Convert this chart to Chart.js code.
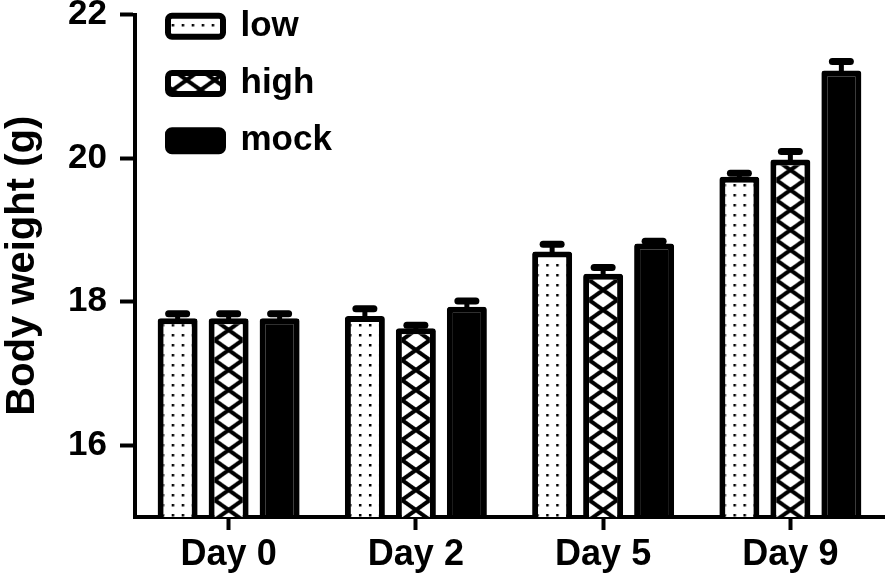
<!DOCTYPE html>
<html>
<head>
<meta charset="utf-8">
<script src="https://cdn.jsdelivr.net/npm/chart.js@4.4.1/dist/chart.umd.min.js"></script>
<style>
  html, body { margin: 0; padding: 0; background: #fff; }
  #wrap { width: 894px; height: 577px; position: relative; }
</style>
</head>
<body>
<div id="wrap"><canvas id="bwChart"></canvas></div>
<script>
// ---- data ----
var categories = ["Day 0", "Day 2", "Day 5", "Day 9"];
var lowMean  = [17.77, 17.80, 18.70, 19.74];
var highMean = [17.77, 17.63, 18.39, 19.98];
var mockMean = [17.77, 17.93, 18.81, 21.22];
var lowErr   = [0.06, 0.10, 0.10, 0.05];
var highErr  = [0.06, 0.04, 0.085, 0.11];
var mockErr  = [0.06, 0.08, 0.03, 0.125];
var yTicks   = [16, 18, 20, 22];

var FONT = "'Liberation Sans', Arial, sans-serif";
var CAT_PCT = 0.817;
var BAR_PCT = 0.784;

// pattern tiles
function dotTile() {
  var c = document.createElement("canvas");
  c.width = 10; c.height = 10;
  var g = c.getContext("2d");
  g.fillStyle = "#fff";
  g.fillRect(0, 0, 10, 10);
  g.fillStyle = "#000";
  g.fillRect(4, 4, 2.5, 2.5);
  return c;
}

var HW = 28, HH = 20;
function hatchTile() {
  var c = document.createElement("canvas");
  c.width = HW; c.height = HH;
  var g = c.getContext("2d");
  g.fillStyle = "#fff";
  g.fillRect(0, 0, HW, HH);
  g.strokeStyle = "#000";
  g.lineWidth = 4;
  for (var dx = -HW; dx <= HW; dx += HW) {
    for (var dy = -HH; dy <= HH; dy += HH) {
      g.beginPath();
      g.moveTo(dx, dy); g.lineTo(dx + HW, dy + HH);
      g.moveTo(dx + HW, dy); g.lineTo(dx, dy + HH);
      g.stroke();
    }
  }
  return c;
}

var tiles = { dots: dotTile(), hatch: hatchTile() };
var patCtx = document.createElement("canvas").getContext("2d");

function makePattern(kind, ox) {
  var p = patCtx.createPattern(tiles[kind], "repeat");
  if (p.setTransform) p.setTransform(new DOMMatrix().translate(ox, 0));
  return p;
}

// bar centre of dataset i at category j, from the x scale
function barCenter(chart, i, j) {
  var x = chart.scales.x;
  var slot = (x.width / categories.length) * CAT_PCT / 3;
  return x.getPixelForValue(j) + (i - 1) * slot;
}

function fillFor(kind, dsIndex) {
  return function (c) {
    if (c.type !== "data" || !c.chart.scales || !c.chart.scales.x) {
      return makePattern(kind, kind === "hatch" ? 181.5 : 0);
    }
    var cx = barCenter(c.chart, dsIndex, c.dataIndex);
    return makePattern(kind, kind === "hatch" ? cx - HW / 2 : cx);
  };
}

var errors = [lowErr, highErr, mockErr];

// error bars drawn from the data through the y scale
var errorBars = {
  id: "errorBars",
  afterDatasetsDraw: function (chart) {
    var ctx = chart.ctx;
    var y = chart.scales.y;
    ctx.save();
    ctx.strokeStyle = "#000";
    chart.data.datasets.forEach(function (ds, i) {
      var meta = chart.getDatasetMeta(i);
      meta.data.forEach(function (bar, j) {
        var top = y.getPixelForValue(ds.data[j]);
        var cap = y.getPixelForValue(ds.data[j] + errors[i][j]);
        ctx.lineCap = "butt";
        ctx.lineWidth = 5;
        ctx.beginPath();
        ctx.moveTo(bar.x, top + 2);
        ctx.lineTo(bar.x, cap);
        ctx.stroke();
        ctx.lineCap = "round";
        ctx.lineWidth = 7;
        ctx.beginPath();
        ctx.moveTo(bar.x - 9, cap);
        ctx.lineTo(bar.x + 9, cap);
        ctx.stroke();
      });
    });
    ctx.restore();
  }
};

// push the legend into the upper-left corner of the plot
var legendSpot = {
  id: "legendSpot",
  afterLayout: function (chart) {
    if (chart.legend) {
      chart.legend.top = -13.6;
      chart.legend.left = 145.7;
    }
  }
};

new Chart(document.getElementById("bwChart"), {
  type: "bar",
  data: {
    labels: categories,
    datasets: [
      { label: "low",  data: lowMean,  backgroundColor: fillFor("dots", 0) },
      { label: "high", data: highMean, backgroundColor: fillFor("hatch", 1) },
      { label: "mock", data: mockMean, backgroundColor: "#000" }
    ]
  },
  options: {
    responsive: true,
    maintainAspectRatio: false,
    animation: false,
    layout: { padding: { top: 14.5, right: 10, bottom: 0, left: 0 } },
    datasets: {
      bar: {
        borderColor: "#000",
        borderWidth: 6,
        borderRadius: 3,
        categoryPercentage: CAT_PCT,
        barPercentage: BAR_PCT
      }
    },
    plugins: {
      tooltip: { enabled: false },
      legend: {
        position: "chartArea",
        align: "start",
        labels: {
          color: "#000",
          font: { family: FONT, size: 35, weight: "bold" },
          boxWidth: 55,
          boxHeight: 21,
          padding: 22.3,
          useBorderRadius: true,
          borderRadius: 4
        }
      }
    },
    scales: {
      x: {
        z: 1,
        offset: true,
        grid: {
          offset: false,
          drawOnChartArea: false,
          drawTicks: true,
          tickLength: 13,
          tickWidth: 4,
          tickColor: "#000"
        },
        border: { display: true, color: "#000", width: 4 },
        ticks: {
          color: "#000",
          padding: 3,
          maxRotation: 0,
          font: { family: FONT, size: 36, weight: "bold", lineHeight: 1.2 }
        },
        afterFit: function (s) {
          s.height = 60;
          s.paddingLeft = 0;
          s.paddingRight = 0;
        }
      },
      y: {
        min: 15,
        max: 22,
        grid: {
          drawOnChartArea: false,
          drawTicks: true,
          tickLength: 15,
          tickWidth: 4,
          tickColor: "#000"
        },
        border: { display: true, color: "#000", width: 4 },
        afterBuildTicks: function (s) {
          s.ticks = yTicks.map(function (v) { return { value: v }; });
        },
        ticks: {
          color: "#000",
          padding: 13,
          font: { family: FONT, size: 35, weight: "bold" }
        },
        title: {
          display: true,
          text: "Body weight (g)",
          color: "#000",
          padding: { top: 3, bottom: 0 },
          font: { family: FONT, size: 40, weight: "bold", lineHeight: 1 }
        },
        afterFit: function (s) {
          s.width = 135;
          s.paddingTop = 0;
          s.paddingBottom = 0;
        }
      }
    }
  },
  plugins: [errorBars, legendSpot]
});
</script>
</body>
</html>
